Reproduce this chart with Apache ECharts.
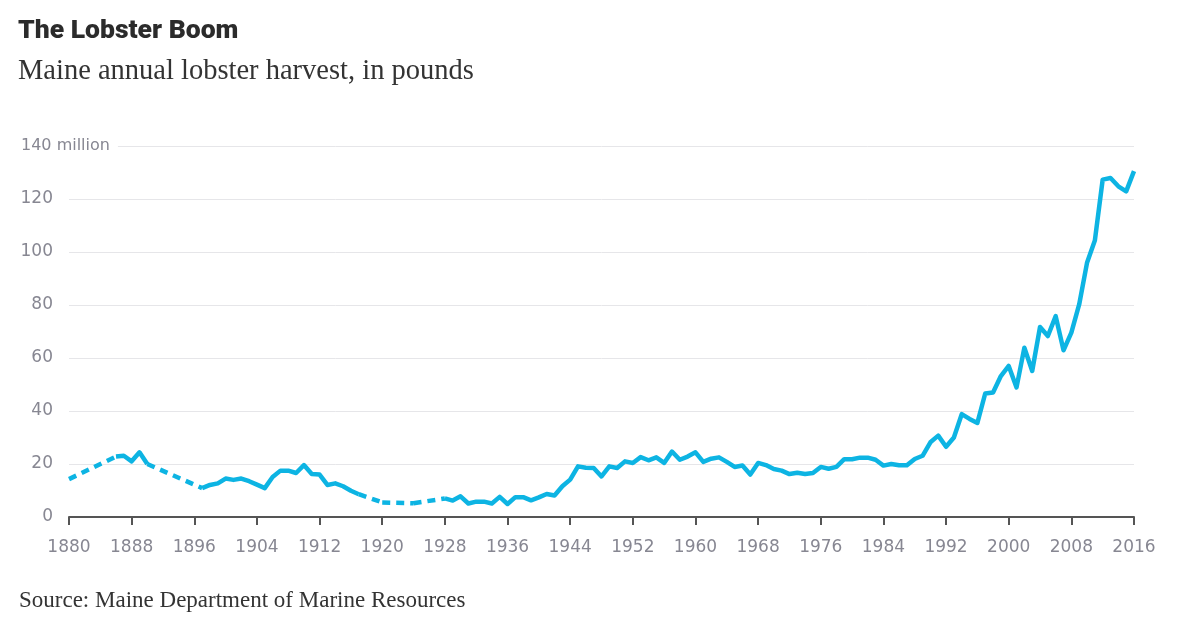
<!DOCTYPE html>
<html>
<head>
<meta charset="utf-8">
<title>The Lobster Boom</title>
<script src="https://cdn.jsdelivr.net/npm/echarts@6/dist/echarts.min.js"></script>
<style>
  html, body { margin: 0; padding: 0; background: #fff; }
  #chart { width: 1200px; height: 629px; }
</style>
</head>
<body>
<div id="chart"></div>
<script>
// years that have a recorded harvest (gaps get a dashed line)
var years = [
  1880, 1886, 1887, 1888, 1889, 1890, 1897, 1898, 1899, 1900, 1901, 1902, 1903, 1904, 1905,
  1906, 1907, 1908, 1909, 1910, 1911, 1912, 1913, 1914, 1915, 1916, 1917, 1920, 1924, 1928,
  1929, 1930, 1931, 1932, 1933, 1934, 1935, 1936, 1937, 1938, 1939, 1940, 1941, 1942, 1943,
  1944, 1945, 1946, 1947, 1948, 1949, 1950, 1951, 1952, 1953, 1954, 1955, 1956, 1957, 1958,
  1959, 1960, 1961, 1962, 1963, 1964, 1965, 1966, 1967, 1968, 1969, 1970, 1971, 1972, 1973,
  1974, 1975, 1976, 1977, 1978, 1979, 1980, 1981, 1982, 1983, 1984, 1985, 1986, 1987, 1988,
  1989, 1990, 1991, 1992, 1993, 1994, 1995, 1996, 1997, 1998, 1999, 2000, 2001, 2002, 2003,
  2004, 2005, 2006, 2007, 2008, 2009, 2010, 2011, 2012, 2013, 2014, 2015, 2016
];
// millions of pounds
var harvest = [
  14.3, 22.8, 23.1, 21.0, 24.4, 20.0, 10.9, 12.1, 12.7, 14.5, 14.0, 14.5, 13.5, 12.2, 10.9,
  15.1, 17.5, 17.5, 16.6, 19.6, 16.2, 16.0, 12.1, 12.7, 11.6, 9.9, 8.6, 5.5, 5.2, 7.0,
  6.2, 7.8, 5.1, 5.8, 5.8, 5.1, 7.6, 4.9, 7.5, 7.5, 6.3, 7.4, 8.7, 8.1, 11.6,
  14.1, 19.1, 18.6, 18.5, 15.3, 19.1, 18.5, 21.0, 20.4, 22.6, 21.4, 22.5, 20.4, 24.7, 21.6,
  22.8, 24.4, 20.8, 22.0, 22.5, 20.8, 18.9, 19.4, 16.0, 20.4, 19.6, 18.1, 17.5, 16.2, 16.7,
  16.2, 16.6, 18.9, 18.2, 18.9, 21.8, 21.8, 22.4, 22.4, 21.6, 19.4, 20.0, 19.5, 19.5, 21.9,
  23.1, 28.2, 30.7, 26.5, 30.0, 38.8, 37.0, 35.5, 46.6, 47.0, 53.2, 57.0, 48.9, 63.9, 55.1,
  71.7, 68.3, 75.8, 62.9, 69.6, 80.2, 95.9, 104.3, 127.3, 127.9, 124.8, 122.9, 130.5
];
var yTicks = [0, 20, 40, 60, 80, 100, 120, 140];

var lineColor = '#0db4e3';

// solid line only across consecutive years, dashed line bridges the gaps
var solid = [];
var dashed = [];
for (var i = 0; i < years.length; i++) {
  if (i > 0 && years[i] - years[i - 1] > 1) {
    solid.push([years[i - 1] + 1, '-']);
    dashed.push([years[i - 1], harvest[i - 1]]);
    dashed.push([years[i], harvest[i]]);
    dashed.push([years[i] + 0.5, '-']);
  }
  solid.push([years[i], harvest[i]]);
}

var chart = echarts.init(document.getElementById('chart'), null, { renderer: 'canvas' });

var option = {
  backgroundColor: '#fff',
  animation: false,
  title: [
    {
      text: 'The Lobster Boom',
      left: 18,
      top: 18,
      padding: 0,
      textStyle: { fontFamily: 'Roboto', fontWeight: 900, fontSize: 26.5, color: '#2b2b2b' }
    },
    {
      text: 'Maine annual lobster harvest, in pounds',
      left: 18,
      top: 57,
      padding: 0,
      textStyle: { fontFamily: 'Liberation Serif', fontWeight: 'normal', fontSize: 28.5, color: '#333' }
    },
    {
      text: 'Source: Maine Department of Marine Resources',
      left: 19,
      top: 589,
      padding: 0,
      textStyle: { fontFamily: 'Liberation Serif', fontWeight: 'normal', fontSize: 23, color: '#333' }
    }
  ],
  grid: { left: 69, right: 66, top: 146, bottom: 112 },
  xAxis: {
    type: 'value',
    min: 1880,
    max: 2016,
    interval: 8,
    axisLine: { show: true, lineStyle: { color: '#555', width: 2 } },
    axisTick: { show: true, length: 8, lineStyle: { color: '#555', width: 2 } },
    splitLine: { show: false },
    axisLabel: {
      margin: 22,
      fontFamily: 'DejaVu Sans',
      fontSize: 17,
      color: '#878792',
      formatter: function (v) { return String(v); }
    }
  },
  yAxis: {
    type: 'value',
    min: yTicks[0],
    max: yTicks[yTicks.length - 1],
    interval: 20,
    axisLine: { show: false },
    axisTick: { show: false },
    splitLine: { lineStyle: { color: '#e6e6e9', width: 1 } },
    axisLabel: {
      align: 'left',
      margin: 48,
      fontFamily: 'DejaVu Sans',
      fontSize: 17,
      color: '#878792',
      formatter: function (v) {
        if (v === 140) return '{top|' + v + ' million}';
        return '{n|' + v + '}';
      },
      rich: {
        n: { width: 32, align: 'right', fontFamily: 'DejaVu Sans', fontSize: 17, color: '#878792' },
        top: { backgroundColor: '#fff', padding: [0, 8, 0, 0], fontFamily: 'DejaVu Sans', fontSize: 16, color: '#878792' }
      }
    }
  },
  series: [
    {
      name: 'dashed',
      type: 'line',
      data: dashed,
      showSymbol: false,
      connectNulls: false,
      lineStyle: { color: lineColor, width: 4.5, type: [8, 6] },
      z: 2
    },
    {
      name: 'harvest',
      type: 'line',
      data: solid,
      showSymbol: false,
      connectNulls: false,
      lineStyle: { color: lineColor, width: 4.5, join: 'round' },
      z: 3
    }
  ]
};

chart.setOption(option);

window.addEventListener('resize', function () {
  setTimeout(function () {
    chart.resize();
  }, 200);
});
</script>
</body>
</html>
